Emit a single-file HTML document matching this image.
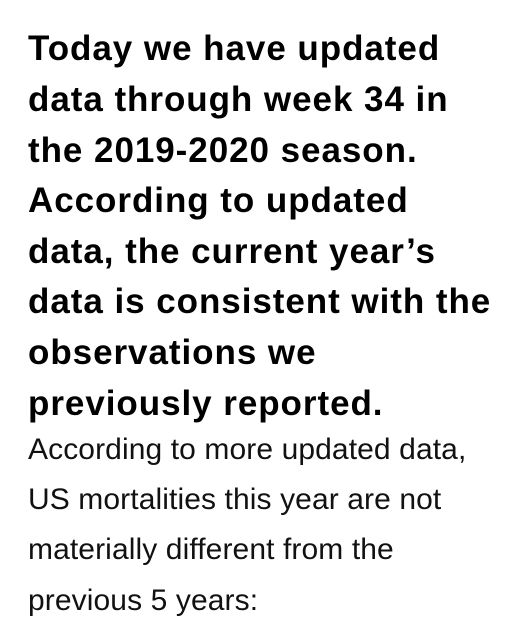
<!DOCTYPE html>
<html><head><meta charset="utf-8"><style>
body{margin:0;width:520px;height:640px;background:#fff;overflow:hidden;position:relative;font-family:"Liberation Sans",sans-serif;color:#000}
.b{position:absolute;left:28px;font-weight:bold;font-size:35px;line-height:40px;white-space:nowrap;letter-spacing:0.95px}
.r{position:absolute;left:28px;font-size:30px;line-height:36px;white-space:nowrap;color:#111;letter-spacing:0.1px}
</style></head><body>
<div>
<div class="b" style="top:29px">Today we have updated</div>
<div class="b" style="top:80px">data through week 34 in</div>
<div class="b" style="top:131px">the 2019-2020 season.</div>
<div class="b" style="top:181px">According to updated</div>
<div class="b" style="top:232px">data, the current year’s</div>
<div class="b" style="top:282px">data is consistent with the</div>
<div class="b" style="top:333px">observations we</div>
<div class="b" style="top:384px">previously reported.</div>
</div>
<div>
<div class="r" style="top:432px">According to more updated data,</div>
<div class="r" style="top:482px">US mortalities this year are not</div>
<div class="r" style="top:532px">materially different from the</div>
<div class="r" style="top:583px">previous 5 years:</div>
</div>
</body></html>
